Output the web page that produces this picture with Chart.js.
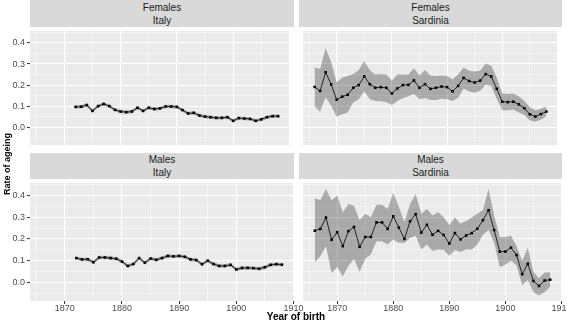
<!DOCTYPE html>
<html><head><meta charset="utf-8">
<script src="https://cdn.jsdelivr.net/npm/chart.js@4.4.1/dist/chart.umd.min.js"></script>
<style>
html,body{margin:0;padding:0;background:#fff;}
#wrap{position:relative;width:567px;height:321px;overflow:hidden;font-family:"Liberation Sans",Arial,sans-serif;background:#fff;}
.cv{position:absolute;}
.strip{position:absolute;background:#D9D9D9;color:#1A1A1A;font-size:10px;}
.strip div{position:absolute;left:0;right:0;text-align:center;line-height:12px;}
.title{position:absolute;font-weight:bold;color:#000;white-space:nowrap;}
</style></head>
<body><div id="wrap">
  <div class="strip" style="left:30px;top:0;width:264px;height:27px;"><div style="top:2px">Females</div><div style="top:15px">Italy</div></div>
  <div class="strip" style="left:299px;top:0;width:263px;height:27px;"><div style="top:2px">Females</div><div style="top:15px">Sardinia</div></div>
  <div class="strip" style="left:30px;top:153px;width:264px;height:26px;"><div style="top:1px">Males</div><div style="top:14px">Italy</div></div>
  <div class="strip" style="left:299px;top:153px;width:263px;height:26px;"><div style="top:1px">Males</div><div style="top:14px">Sardinia</div></div>
  <canvas class="cv" id="cTL" width="294" height="122" style="left:0;top:27px;"></canvas>
  <canvas class="cv" id="cTR" width="263" height="122" style="left:299px;top:27px;"></canvas>
  <canvas class="cv" id="cBL" width="310" height="142" style="left:0;top:179px;"></canvas>
  <canvas class="cv" id="cBR" width="268" height="142" style="left:299px;top:179px;"></canvas>
  <div class="title" style="left:246px;top:311px;width:100px;text-align:center;font-size:10px;line-height:11px;">Year of birth</div>
  <div class="title" style="left:-43px;top:158px;width:100px;text-align:center;font-size:9px;line-height:12px;transform:rotate(-90deg);">Rate of ageing</div>
</div>
<script>
const italyYears = [1872,1873,1874,1875,1876,1877,1878,1879,1880,1881,1882,1883,1884,1885,1886,1887,1888,1889,1890,1891,1892,1893,1894,1895,1896,1897,1898,1899,1900,1901,1902,1903,1904,1905,1906,1907,1908];
const sardYears = [1866,1867,1868,1869,1870,1871,1872,1873,1874,1875,1876,1877,1878,1879,1880,1881,1882,1883,1884,1885,1886,1887,1888,1889,1890,1891,1892,1893,1894,1895,1896,1897,1898,1899,1900,1901,1902,1903,1904,1905,1906,1907,1908];

const femItaly   = [0.096,0.097,0.105,0.077,0.100,0.110,0.100,0.082,0.074,0.071,0.074,0.092,0.077,0.092,0.086,0.089,0.098,0.098,0.096,0.081,0.065,0.068,0.055,0.050,0.047,0.044,0.044,0.047,0.030,0.043,0.041,0.039,0.030,0.037,0.047,0.052,0.052];
const femItalyHi = [0.104,0.105,0.113,0.085,0.108,0.118,0.108,0.090,0.082,0.079,0.082,0.100,0.085,0.100,0.094,0.097,0.106,0.106,0.104,0.089,0.073,0.076,0.063,0.058,0.055,0.052,0.052,0.055,0.038,0.051,0.049,0.047,0.038,0.045,0.055,0.060,0.060];
const femItalyLo = [0.088,0.089,0.097,0.069,0.092,0.102,0.092,0.074,0.066,0.063,0.066,0.084,0.069,0.084,0.078,0.081,0.090,0.090,0.088,0.073,0.057,0.060,0.047,0.042,0.039,0.036,0.036,0.039,0.022,0.035,0.033,0.031,0.022,0.029,0.039,0.044,0.044];

const maleItaly   = [0.112,0.106,0.107,0.093,0.115,0.115,0.112,0.109,0.096,0.076,0.085,0.112,0.091,0.110,0.104,0.112,0.122,0.120,0.122,0.118,0.106,0.103,0.084,0.100,0.085,0.076,0.076,0.081,0.060,0.067,0.067,0.066,0.063,0.070,0.081,0.084,0.082];
const maleItalyHi = [0.120,0.114,0.115,0.101,0.123,0.123,0.120,0.117,0.104,0.084,0.093,0.120,0.099,0.118,0.112,0.120,0.130,0.128,0.130,0.126,0.114,0.111,0.092,0.108,0.093,0.084,0.084,0.089,0.068,0.075,0.075,0.074,0.071,0.078,0.089,0.092,0.090];
const maleItalyLo = [0.104,0.098,0.099,0.085,0.107,0.107,0.104,0.101,0.088,0.068,0.077,0.104,0.083,0.102,0.096,0.104,0.114,0.112,0.114,0.110,0.098,0.095,0.076,0.092,0.077,0.068,0.068,0.073,0.052,0.059,0.059,0.058,0.055,0.062,0.073,0.076,0.074];

const femSard   = [0.191,0.172,0.261,0.203,0.130,0.145,0.154,0.187,0.200,0.241,0.204,0.187,0.190,0.187,0.160,0.184,0.200,0.201,0.222,0.187,0.204,0.182,0.187,0.193,0.190,0.170,0.196,0.234,0.219,0.212,0.221,0.252,0.241,0.182,0.121,0.119,0.121,0.108,0.090,0.061,0.050,0.062,0.074];
const femSardHi = [0.284,0.276,0.376,0.310,0.213,0.236,0.243,0.253,0.272,0.314,0.272,0.250,0.253,0.250,0.221,0.250,0.250,0.250,0.280,0.246,0.272,0.246,0.243,0.246,0.243,0.228,0.250,0.283,0.268,0.265,0.268,0.302,0.292,0.236,0.161,0.157,0.160,0.147,0.124,0.095,0.080,0.087,0.098];
const femSardLo = [0.099,0.073,0.142,0.102,0.049,0.061,0.070,0.117,0.132,0.169,0.132,0.124,0.123,0.120,0.105,0.124,0.139,0.147,0.157,0.132,0.139,0.129,0.129,0.135,0.132,0.124,0.139,0.184,0.169,0.164,0.173,0.203,0.194,0.135,0.080,0.080,0.084,0.070,0.058,0.031,0.025,0.036,0.050];

const maleSard   = [0.238,0.246,0.298,0.196,0.231,0.167,0.236,0.255,0.164,0.209,0.209,0.276,0.276,0.246,0.304,0.252,0.200,0.281,0.314,0.229,0.265,0.219,0.237,0.218,0.179,0.227,0.198,0.216,0.227,0.247,0.286,0.332,0.241,0.142,0.142,0.160,0.126,0.038,0.086,0.007,-0.016,0.009,0.013];
const maleSardHi = [0.387,0.379,0.429,0.378,0.400,0.323,0.360,0.352,0.286,0.316,0.300,0.357,0.357,0.338,0.412,0.348,0.278,0.360,0.407,0.316,0.338,0.308,0.323,0.300,0.264,0.298,0.271,0.283,0.298,0.316,0.333,0.431,0.308,0.209,0.209,0.215,0.167,0.100,0.160,0.049,0.019,0.046,0.046];
const maleSardLo = [0.093,0.120,0.167,0.044,0.071,0.027,0.076,0.108,0.049,0.108,0.130,0.189,0.189,0.175,0.197,0.182,0.182,0.204,0.215,0.152,0.175,0.145,0.152,0.149,0.123,0.149,0.140,0.152,0.152,0.175,0.219,0.241,0.182,0.071,0.081,0.100,0.078,-0.013,0.012,-0.045,-0.060,-0.045,-0.018];

const FONT = '"Liberation Sans", Arial, sans-serif';
const xMin = 1863.9, xMax = 1910.1, yMin = -0.085, yMax = 0.457;

const panelBg = {
  id: 'panelBg',
  beforeDraw(c) {
    const a = c.chartArea, ctx = c.ctx;
    ctx.save();
    ctx.fillStyle = '#EBEBEB';
    ctx.fillRect(a.left, a.top, a.right - a.left, a.bottom - a.top);
    ctx.restore();
  }
};

function pts(xs, ys) { return xs.map((x, i) => ({ x: x, y: ys[i] })); }
const isMajX = v => Math.abs(v % 10) < 1e-6;
const isMajY = v => Math.abs(Math.round(v * 10) - v * 10) < 1e-6;

function makeChart(id, years, mid, hi, lo, showX, showY, padRight) {
  new Chart(document.getElementById(id), {
    type: 'line',
    data: {
      datasets: [
        { data: pts(years, mid), borderColor: '#000', borderWidth: 0.8, pointStyle: 'rect', pointRadius: 1.8, pointBackgroundColor: '#000', pointBorderWidth: 0, fill: false, tension: 0 },
        { data: pts(years, hi), borderWidth: 0, pointRadius: 0, backgroundColor: 'rgba(0,0,0,0.28)', fill: '+1', tension: 0 },
        { data: pts(years, lo), borderWidth: 0, pointRadius: 0, fill: false, tension: 0 }
      ]
    },
    options: {
      responsive: false,
      animation: false,
      events: [],
      layout: { padding: { left: 0, right: padRight, top: 0, bottom: 0 } },
      plugins: { legend: { display: false }, tooltip: { enabled: false }, filler: { propagate: false } },
      scales: {
        x: {
          type: 'linear', min: xMin, max: xMax,
          border: { display: false },
          grid: {
            color: '#FFFFFF',
            lineWidth: c => (c.tick && isMajX(c.tick.value)) ? 1.1 : 0.5,
            drawTicks: showX, tickLength: 3, tickWidth: 1,
            tickColor: c => (c.tick && isMajX(c.tick.value)) ? '#333333' : 'rgba(0,0,0,0)'
          },
          ticks: {
            display: showX, stepSize: 5, includeBounds: false, autoSkip: false, maxRotation: 0, minRotation: 0,
            padding: -1, color: '#4D4D4D', font: { family: FONT, size: 9 },
            callback: v => isMajX(v) ? String(v) : ''
          },
          afterFit: s => { s.height = showX ? 20 : 0; s.paddingLeft = 0; s.paddingRight = 0; s.paddingTop = 0; s.paddingBottom = 0; }
        },
        y: {
          type: 'linear', min: yMin, max: yMax,
          border: { display: false },
          grid: {
            color: '#FFFFFF',
            lineWidth: c => (c.tick && isMajY(c.tick.value)) ? 1.1 : 0.5,
            drawTicks: showY, tickLength: 3, tickWidth: 1,
            tickColor: c => (c.tick && isMajY(c.tick.value)) ? '#333333' : 'rgba(0,0,0,0)'
          },
          ticks: {
            display: showY, stepSize: 0.05, includeBounds: false, autoSkip: false,
            padding: 2, color: '#4D4D4D', font: { family: FONT, size: 9 },
            callback: v => isMajY(v) ? (Math.abs(v) < 1e-9 ? '0.0' : v.toFixed(1)) : ''
          },
          afterFit: s => { s.width = showY ? 30 : 0; s.paddingLeft = 0; s.paddingRight = 0; s.paddingTop = 0; s.paddingBottom = 0; }
        }
      }
    },
    plugins: [panelBg]
  });
}

makeChart('cTL', italyYears, femItaly, femItalyHi, femItalyLo, false, true, 0);
makeChart('cTR', sardYears, femSard, femSardHi, femSardLo, false, false, 0);
makeChart('cBL', italyYears, maleItaly, maleItalyHi, maleItalyLo, true, true, 16);
makeChart('cBR', sardYears, maleSard, maleSardHi, maleSardLo, true, false, 5);
</script>
</body></html>
